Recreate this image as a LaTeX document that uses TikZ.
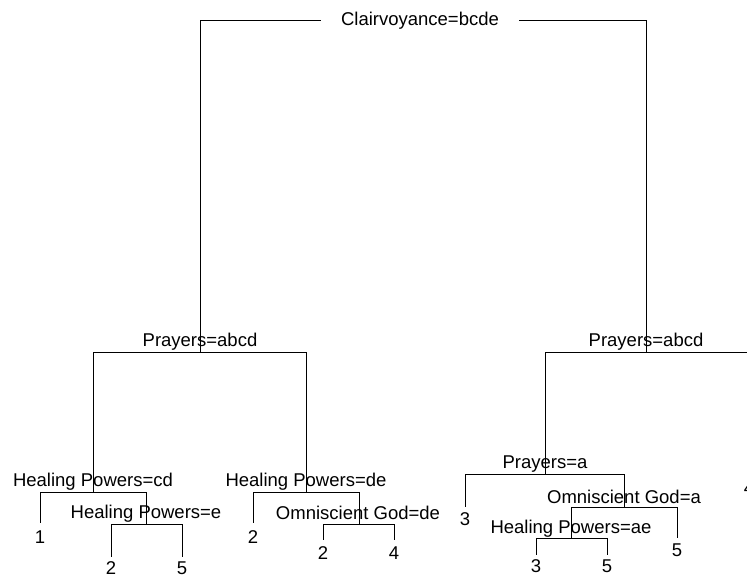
\documentclass[tikz,border=0pt]{standalone}
\usepackage{fontspec}
\setmainfont{Liberation Sans}
\begin{document}
\begin{tikzpicture}[x=1bp,y=-1bp,
  branch/.style={draw=black,line width=0.8bp},
  splitlabel/.style={anchor=base,inner sep=0pt,font=\fontsize{18.5bp}{22bp}\selectfont},
  leaflabel/.style={anchor=base,inner sep=0pt,font=\fontsize{18.5bp}{22bp}\selectfont}]
\useasboundingbox (0,0) rectangle (747,578);
\clip (0,0) rectangle (747,578);

% split points (x, level of the horizontal bar)
\coordinate (root) at (420,20);
\coordinate (pl)   at (200,352);
\coordinate (pr)   at (646,352);
\coordinate (hcd)  at (93,492);
\coordinate (he)   at (146,524);
\coordinate (hde)  at (306,492);
\coordinate (ogde) at (359,524);
\coordinate (pa)   at (545,474);
\coordinate (oga)  at (624,507);
\coordinate (hae)  at (571,538);
% leaf ends
\coordinate (f1)   at (40,523);
\coordinate (f2)   at (111,557);
\coordinate (f3)   at (182,557);
\coordinate (f4)   at (253,523);
\coordinate (f5)   at (323,540);
\coordinate (f6)   at (394,540);
\coordinate (f7)   at (465,507);
\coordinate (f8)   at (536,555);
\coordinate (f9)   at (607,555);
\coordinate (f10)  at (677,538);
\coordinate (f11)  at (751,477);

% branches
\draw[branch] (root) -| (pl);
\draw[branch] (root) -| (pr);
\draw[branch] (pl) -| (hcd);
\draw[branch] (pl) -| (hde);
\draw[branch] (hcd) -| (f1);
\draw[branch] (hcd) -| (he);
\draw[branch] (he) -| (f2);
\draw[branch] (he) -| (f3);
\draw[branch] (hde) -| (f4);
\draw[branch] (hde) -| (ogde);
\draw[branch] (ogde) -| (f5);
\draw[branch] (ogde) -| (f6);
\draw[branch] (pr) -| (pa);
\draw[branch] (pr) -| (f11);
\draw[branch] (pa) -| (f7);
\draw[branch] (pa) -| (oga);
\draw[branch] (oga) -| (hae);
\draw[branch] (oga) -| (f10);
\draw[branch] (hae) -| (f8);
\draw[branch] (hae) -| (f9);

% split labels
\node[splitlabel,fill=white,inner xsep=20bp,inner ysep=3bp] (lroot) at (420,26) {Clairvoyance=bcde};
\node[splitlabel] (lpl)   at (200,346) {Prayers=abcd};
\node[splitlabel] (lpr)   at (646,346) {Prayers=abcd};
\node[splitlabel] (lhcd)  at (93,486)  {Healing Powers=cd};
\node[splitlabel] (lhe)   at (146,518) {Healing Powers=e};
\node[splitlabel] (lhde)  at (306,486) {Healing Powers=de};
\node[splitlabel] (logde) at (358,519) {Omniscient God=de};
\node[splitlabel] (lpa)   at (545,468) {Prayers=a};
\node[splitlabel] (loga)  at (624,503) {Omniscient God=a};
\node[splitlabel] (lhae)  at (571,533) {Healing Powers=ae};

% leaf labels
\node[leaflabel] (n1)  at (40,543)  {1};
\node[leaflabel] (n2)  at (111,574) {2};
\node[leaflabel] (n3)  at (182,574) {5};
\node[leaflabel] (n4)  at (253,543) {2};
\node[leaflabel] (n5)  at (323,559) {2};
\node[leaflabel] (n6)  at (394,559) {4};
\node[leaflabel] (n7)  at (465,525) {3};
\node[leaflabel] (n8)  at (536,572) {3};
\node[leaflabel] (n9)  at (607,572) {5};
\node[leaflabel] (n10) at (677,556) {5};
\node[leaflabel] (n11) at (749,494) {4};
\end{tikzpicture}
\end{document}
